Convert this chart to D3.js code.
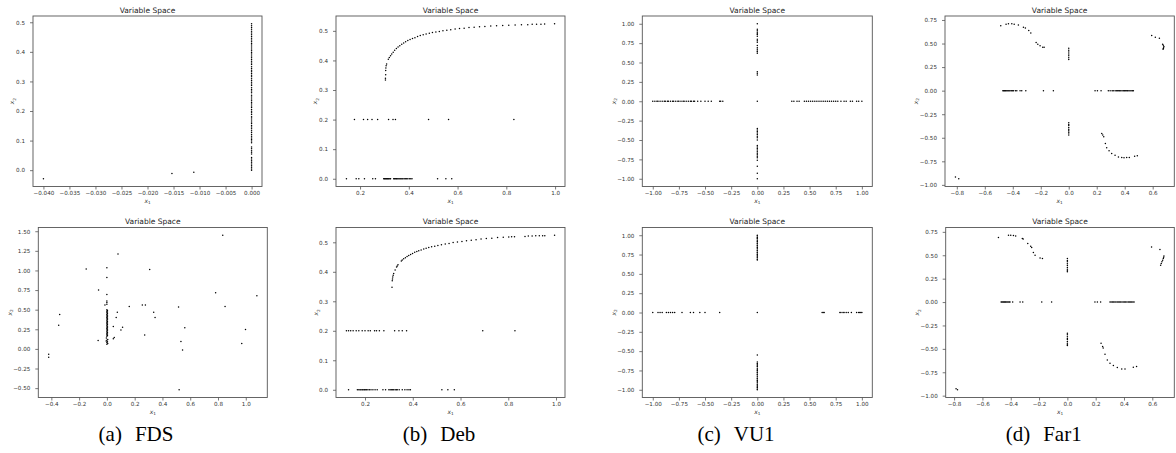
<!DOCTYPE html>
<html><head><meta charset="utf-8">
<script src="https://cdn.jsdelivr.net/npm/d3@7"></script>
<style>body{margin:0;background:#fff}svg{display:block}</style>
</head><body><svg id="c" width="1176" height="453"></svg>
<script>
// ---------------- data ----------------
const captionTags = ["(a)", "(b)", "(c)", "(d)"];
const problemNames = ["FDS", "Deb", "VU1", "Far1"];
const plotTitle = "Variable Space";

const fdsTopXTicks = [-0.040,-0.035,-0.030,-0.025,-0.020,-0.015,-0.010,-0.005,0.000];
const fdsTopYTicks = [0.0,0.1,0.2,0.3,0.4,0.5];
const fdsBotXTicks = [-0.4,-0.2,0.0,0.2,0.4,0.6,0.8,1.0];
const fdsBotYTicks = [-0.50,-0.25,0.00,0.25,0.50,0.75,1.00,1.25,1.50];
const debXTicks = [0.2,0.4,0.6,0.8,1.0];
const debYTicks = [0.0,0.1,0.2,0.3,0.4,0.5];
const vuTicks = [-1.00,-0.75,-0.50,-0.25,0.00,0.25,0.50,0.75,1.00];
const farXTicks = [-0.8,-0.6,-0.4,-0.2,0.0,0.2,0.4,0.6];
const farYTicks = [-1.00,-0.75,-0.50,-0.25,0.00,0.25,0.50,0.75];

const fdsTop = [[-0.040,-0.029],[-0.0153,-0.011],[-0.0111,-0.007],
[0,0.000],[0,0.004],[0,0.010],[0,0.015],[0,0.021],[0,0.027],[0,0.032],[0,0.038],[0,0.043],[0,0.055],[0,0.061],[0,0.066],[0,0.072],[0,0.078],[0,0.093],[0,0.099],[0,0.104],[0,0.109],[0,0.115],[0,0.121],[0,0.127],[0,0.133],[0,0.140],[0,0.146],[0,0.151],[0,0.158],[0,0.163],[0,0.170],[0,0.176],[0,0.181],[0,0.188],[0,0.194],[0,0.199],[0,0.205],[0,0.212],[0,0.217],[0,0.224],[0,0.229],[0,0.235],[0,0.241],[0,0.247],[0,0.253],[0,0.262],[0,0.268],[0,0.273],[0,0.279],[0,0.286],[0,0.291],[0,0.297],[0,0.303],[0,0.309],[0,0.316],[0,0.321],[0,0.327],[0,0.333],[0,0.338],[0,0.344],[0,0.350],[0,0.357],[0,0.362],[0,0.368],[0,0.374],[0,0.380],[0,0.386],[0,0.393],[0,0.398],[0,0.404],[0,0.410],[0,0.416],[0,0.423],[0,0.428],[0,0.434],[0,0.440],[0,0.446],[0,0.452],[0,0.458],[0,0.464],[0,0.470],[0,0.476],[0,0.482],[0,0.488],[0,0.495]];

const fdsBot = [[-0.419,-0.068],[-0.419,-0.106],[-0.347,0.30],[-0.340,0.44],[-0.149,1.02],[-0.060,0.75],[-0.063,0.106],
[0,1.034],[0,0.91],[0,0.695],[-0.014,0.56],[0,0.61],[0,0.59],[0,0.57],
[0,0.50],[0.004,0.49],[0,0.48],[0.004,0.47],[0,0.46],[0.004,0.45],[0,0.44],[0.004,0.43],[0,0.42],[0.004,0.41],[0,0.40],[0.004,0.39],[0,0.38],[0.004,0.37],[0,0.36],[0.004,0.35],[0,0.34],[0.004,0.33],[0,0.32],[0.004,0.31],[0,0.30],[0.004,0.29],[0,0.28],[0.004,0.27],[0,0.26],[0.004,0.25],[0,0.24],[0.004,0.23],[0,0.22],[0.004,0.21],[0,0.20],[0.004,0.19],[0,0.18],[0.004,0.17],[0,0.16],[-0.004,0.14],[0.006,0.12],[0,0.11],[-0.005,0.10],[0.004,0.09],[0,0.08],[0.006,0.07],[0,0.06],
[0.080,1.21],[0.075,0.466],[0.067,0.40],[0.046,0.284],[0.053,0.144],[0.046,0.13],[0.101,0.24],[0.113,0.275],[0.161,0.54],[0.255,0.56],[0.277,0.56],[0.272,0.178],[0.308,1.013],[0.337,0.466],[0.347,0.40],[0.516,0.534],[0.533,0.093],[0.545,-0.013],[0.561,0.271],[0.520,-0.521],[0.783,0.716],[0.834,1.449],[0.851,0.542],[0.971,0.068],[0.998,0.246],[1.080,0.678]];

const debTopCurve = [[0.304,0.334],[0.304,0.340],[0.305,0.352],[0.305,0.366],[0.306,0.374],[0.307,0.382],[0.309,0.388],[0.316,0.404],[0.320,0.410],[0.325,0.416],[0.330,0.422],[0.336,0.428],[0.342,0.434],[0.349,0.440],[0.356,0.445],[0.363,0.450],[0.371,0.455],[0.379,0.459],[0.387,0.463],[0.396,0.467],[0.405,0.471],[0.415,0.474],[0.425,0.477],[0.436,0.481],[0.447,0.484],[0.459,0.487],[0.471,0.489],[0.484,0.492],[0.497,0.494],[0.511,0.496],[0.525,0.498],[0.540,0.500],[0.556,0.502],[0.572,0.504],[0.590,0.506],[0.608,0.508],[0.627,0.509],[0.647,0.511],[0.668,0.512],[0.690,0.514],[0.712,0.515],[0.736,0.516],[0.760,0.517],[0.785,0.518],[0.810,0.519],[0.836,0.520],[0.862,0.521],[0.888,0.521],[0.906,0.522],[0.924,0.522],[0.942,0.522],[0.957,0.523],[0.998,0.524]];
const debTopRow02 = [0.177,0.214,0.231,0.249,0.272,0.317,0.335,0.345,0.481,0.563,0.831];
const debTopRow00 = [0.144,0.184,0.195,0.218,0.252,0.263,0.297,0.300,0.303,0.306,0.309,0.312,0.315,0.318,0.322,0.325,0.338,0.341,0.345,0.349,0.352,0.356,0.360,0.364,0.368,0.372,0.376,0.381,0.386,0.391,0.396,0.402,0.408,0.413,0.518,0.552,0.576];

const debBotCurve = [[0.313,0.348],[0.314,0.370],[0.315,0.376],[0.316,0.382],[0.318,0.388],[0.320,0.394],[0.326,0.406],[0.332,0.416],[0.335,0.420],[0.338,0.424],[0.352,0.437],[0.356,0.440],[0.362,0.444],[0.369,0.448],[0.376,0.452],[0.383,0.455],[0.391,0.459],[0.399,0.462],[0.408,0.466],[0.417,0.469],[0.425,0.471],[0.435,0.474],[0.446,0.477],[0.456,0.480],[0.467,0.482],[0.479,0.485],[0.492,0.487],[0.505,0.489],[0.520,0.492],[0.536,0.494],[0.552,0.496],[0.569,0.499],[0.587,0.501],[0.606,0.503],[0.625,0.505],[0.645,0.507],[0.665,0.509],[0.686,0.511],[0.708,0.513],[0.731,0.514],[0.755,0.516],[0.779,0.517],[0.802,0.518],[0.814,0.519],[0.826,0.519],[0.870,0.520],[0.884,0.521],[0.900,0.521],[0.915,0.522],[0.930,0.522],[0.944,0.522],[0.953,0.522],[0.994,0.524]];
const debBotRow02 = [0.122,0.131,0.140,0.150,0.163,0.174,0.188,0.200,0.213,0.222,0.240,0.248,0.260,0.279,0.324,0.342,0.356,0.374,0.693,0.828];
const debBotRow00 = [0.131,0.168,0.174,0.179,0.183,0.188,0.192,0.197,0.201,0.206,0.212,0.218,0.225,0.233,0.242,0.251,0.275,0.286,0.300,0.305,0.310,0.315,0.320,0.326,0.331,0.335,0.343,0.356,0.367,0.376,0.384,0.390,0.522,0.547,0.574];

const vuTopCol = [1.00,0.93,0.91,0.89,0.87,0.86,0.84,0.80,0.78,0.76,0.72,0.69,0.67,0.65,0.64,0.62,0.38,0.36,0.34,0.00,-0.35,-0.37,-0.39,-0.41,-0.43,-0.45,-0.47,-0.50,-0.57,-0.59,-0.61,-0.63,-0.65,-0.67,-0.69,-0.71,-0.73,-0.76,-0.84,-0.93,-1.00];
const vuTopRow = [-1.00,-0.98,-0.96,-0.95,-0.93,-0.91,-0.89,-0.88,-0.86,-0.85,-0.83,-0.81,-0.80,-0.78,-0.76,-0.75,-0.73,-0.71,-0.70,-0.68,-0.66,-0.64,-0.63,-0.61,-0.60,-0.57,-0.54,-0.50,-0.47,-0.44,-0.36,-0.35,-0.33,0.33,0.35,0.38,0.40,0.45,0.47,0.49,0.51,0.53,0.55,0.57,0.59,0.61,0.63,0.65,0.67,0.69,0.71,0.73,0.75,0.77,0.80,0.83,0.85,0.89,0.91,0.95,0.97,1.00];
const vuBotCol = [1.00,0.99,0.97,0.96,0.95,0.93,0.92,0.90,0.89,0.87,0.86,0.84,0.83,0.81,0.80,0.78,0.77,0.75,0.74,0.72,0.71,0.69,0.68,0.00,-0.55,-0.64,-0.66,-0.67,-0.69,-0.70,-0.72,-0.74,-0.75,-0.77,-0.78,-0.80,-0.81,-0.83,-0.85,-0.86,-0.88,-0.89,-0.91,-0.93,-0.94,-0.96,-0.97,-0.99,-1.00];
const vuBotRow = [-1.00,-0.95,-0.93,-0.91,-0.87,-0.85,-0.83,-0.81,-0.79,-0.72,-0.64,-0.61,-0.55,-0.50,-0.36,0.62,0.63,0.64,0.79,0.80,0.82,0.83,0.85,0.87,0.90,0.95,0.97,0.98,0.99,1.00];

const farTopArcs = [[-0.810,-0.916],[-0.786,-0.935],
[-0.486,0.689],[-0.448,0.706],[-0.431,0.710],[-0.407,0.710],[-0.390,0.706],[-0.360,0.696],[-0.324,0.674],[-0.310,0.664],[-0.286,0.639],[-0.271,0.611],[-0.233,0.511],[-0.221,0.493],[-0.205,0.476],[-0.186,0.461],[-0.176,0.461],
[0.593,0.586],[0.619,0.568],[0.648,0.557],[0.671,0.493],[0.676,0.482],[0.680,0.469],[0.678,0.456],[0.676,0.447],[0.674,0.440],
[0.236,-0.454],[0.243,-0.472],[0.250,-0.490],[0.262,-0.561],[0.271,-0.607],[0.288,-0.639],[0.307,-0.667],[0.331,-0.685],[0.355,-0.703],[0.379,-0.710],[0.395,-0.712],[0.414,-0.710],[0.433,-0.710],[0.471,-0.696],[0.490,-0.692]];
const farTopCol = [0.45,0.43,0.41,0.39,0.37,0.35,0.33,-0.34,-0.36,-0.37,-0.39,-0.41,-0.42,-0.44,-0.45,-0.47];
const farTopRow = [-0.471,-0.465,-0.459,-0.453,-0.447,-0.440,-0.433,-0.426,-0.419,-0.410,-0.402,-0.395,-0.381,-0.371,-0.348,-0.336,-0.307,-0.181,-0.110,0.188,0.205,0.231,0.283,0.296,0.310,0.318,0.331,0.340,0.348,0.357,0.364,0.372,0.381,0.390,0.398,0.405,0.414,0.421,0.430,0.438,0.446,0.455,0.462];

const farBotArcs = [[-0.786,-0.927],[-0.776,-0.937],
[-0.487,0.689],[-0.416,0.714],[-0.400,0.714],[-0.381,0.711],[-0.365,0.705],[-0.318,0.680],[-0.312,0.675],[-0.280,0.625],[-0.259,0.596],[-0.252,0.583],[-0.240,0.529],[-0.228,0.500],[-0.193,0.472],[-0.176,0.465],
[0.595,0.589],[0.654,0.561],[0.682,0.493],[0.680,0.480],[0.678,0.465],[0.673,0.447],[0.668,0.430],[0.663,0.412],[0.659,0.394],
[0.238,-0.440],[0.249,-0.476],[0.253,-0.490],[0.266,-0.557],[0.282,-0.618],[0.301,-0.653],[0.325,-0.678],[0.353,-0.699],[0.384,-0.714],[0.407,-0.714],[0.466,-0.696],[0.489,-0.689]];
const farBotCol = [0.465,0.445,0.43,0.41,0.39,0.37,0.35,0.335,0.323,-0.334,-0.35,-0.37,-0.39,-0.40,-0.42,-0.44,-0.455,-0.465];
const farBotRow = [-0.468,-0.462,-0.456,-0.450,-0.444,-0.438,-0.432,-0.425,-0.418,-0.411,-0.405,-0.386,-0.334,-0.315,-0.181,-0.111,0.195,0.212,0.235,0.301,0.309,0.318,0.326,0.335,0.343,0.352,0.360,0.369,0.377,0.386,0.395,0.404,0.412,0.421,0.430,0.438,0.447,0.455,0.463,0.471];

// ---------------- assemble points ----------------
const onRow = (xs, yv) => xs.map(v => [v, yv]);
const onCol = (ys, xv) => ys.map(v => [xv, v]);
const debTop = debTopCurve.concat(onRow(debTopRow02, 0.2), onRow(debTopRow00, 0.0));
const debBot = debBotCurve.concat(onRow(debBotRow02, 0.2), onRow(debBotRow00, 0.0));
const vuTop = onCol(vuTopCol, 0).concat(onRow(vuTopRow, 0));
const vuBot = onCol(vuBotCol, 0).concat(onRow(vuBotRow, 0));
const farTop = farTopArcs.concat(onCol(farTopCol, 0), onRow(farTopRow, 0));
const farBot = farBotArcs.concat(onCol(farBotCol, 0), onRow(farBotRow, 0));

// ---------------- layout ----------------
const R1T = 16, R1B = 186.5, R2T = 227.5, R2B = 397.5;
const panels = [
  {pts: fdsTop, xt: fdsTopXTicks, yt: fdsTopYTicks, xf: ".3f", yf: ".1f", box: [33, R1T, 262, R1B], ylx: 12.7},
  {pts: debTop, xt: debXTicks, yt: debYTicks, xf: ".1f", yf: ".1f", box: [336, R1T, 565, R1B], ylx: 315.7},
  {pts: vuTop, xt: vuTicks, yt: vuTicks, xf: ".2f", yf: ".2f", box: [642.3, R1T, 872.3, R1B], ylx: 614.3},
  {pts: farTop, xt: farXTicks, yt: farYTicks, xf: ".1f", yf: ".2f", box: [945, R1T, 1174.3, R1B], ylx: 916},
  {pts: fdsBot, xt: fdsBotXTicks, yt: fdsBotYTicks, xf: ".1f", yf: ".2f", box: [38.3, R2T, 267.3, R2B], ylx: 10},
  {pts: debBot, xt: debXTicks, yt: debYTicks, xf: ".1f", yf: ".1f", box: [336, R2T, 565, R2B], ylx: 316.7},
  {pts: vuBot, xt: vuTicks, yt: vuTicks, xf: ".2f", yf: ".2f", box: [642.3, R2T, 872.3, R2B], ylx: 614},
  {pts: farBot, xt: farXTicks, yt: farYTicks, xf: ".1f", yf: ".2f", box: [945.7, R2T, 1174.3, R2B], ylx: 917.7}
];
const captionCenters = [136, 439, 736, 1043.7];

const svg = d3.select("#c");
const FONT = "DejaVu Sans, sans-serif";
const padExt = ext => { const m = (ext[1] - ext[0]) * 0.05; return [ext[0] - m, ext[1] + m]; };

panels.forEach(p => {
  const [L, T, R, B] = p.box;
  const x = d3.scaleLinear().domain(padExt(d3.extent(p.pts, d => d[0]))).range([L, R]);
  const y = d3.scaleLinear().domain(padExt(d3.extent(p.pts, d => d[1]))).range([B, T]);
  const g = svg.append("g");

  g.append("g").selectAll("circle").data(p.pts).join("circle")
    .attr("cx", d => x(d[0])).attr("cy", d => y(d[1])).attr("r", 0.75).attr("fill", "#000");

  g.append("rect").attr("x", L).attr("y", T).attr("width", R - L).attr("height", B - T)
    .attr("fill", "none").attr("stroke", "#555").attr("stroke-width", 0.9);

  const xa = g.append("g").attr("transform", `translate(0,${B})`)
    .call(d3.axisBottom(x).tickValues(p.xt).tickFormat(d3.format(p.xf)).tickSize(3).tickPadding(1.3));
  const ya = g.append("g").attr("transform", `translate(${L},0)`)
    .call(d3.axisLeft(y).tickValues(p.yt).tickFormat(d3.format(p.yf)).tickSize(3).tickPadding(5));
  [xa, ya].forEach(a => {
    a.select(".domain").remove();
    a.attr("font-size", null).attr("font-family", null);
    a.selectAll("line").attr("stroke", "#555").attr("stroke-width", 0.8);
    a.selectAll("text").attr("font-family", FONT).attr("font-size", 5.6).attr("fill", "#333");
  });

  g.append("text").attr("x", (L + R) / 2).attr("y", T - 3.4).attr("text-anchor", "middle")
    .attr("font-family", FONT).attr("font-size", 7.5).attr("fill", "#222").text(plotTitle);

  const xl = g.append("text").attr("x", (L + R) / 2).attr("y", B + 16.5).attr("text-anchor", "middle")
    .attr("font-family", FONT).attr("font-size", 6).attr("fill", "#333");
  xl.append("tspan").attr("font-style", "italic").text("x");
  xl.append("tspan").attr("font-size", 4.2).attr("dy", 1.3).text("1");

  const yl = g.append("text").attr("transform", `translate(${p.ylx + 1.5},${(T + B) / 2}) rotate(-90)`)
    .attr("text-anchor", "middle").attr("font-family", FONT).attr("font-size", 6).attr("fill", "#333");
  yl.append("tspan").attr("font-style", "italic").text("x");
  yl.append("tspan").attr("font-size", 4.2).attr("dy", 1.3).text("2");
});

// captions
captionTags.forEach((tag, i) => {
  const t = svg.append("text").attr("x", captionCenters[i]).attr("y", 441).attr("text-anchor", "middle")
    .attr("font-family", "Liberation Serif, serif").attr("font-size", 21).attr("fill", "#000");
  t.append("tspan").text(tag);
  t.append("tspan").attr("dx", 13).text(problemNames[i]);
});
</script>
</body></html>
